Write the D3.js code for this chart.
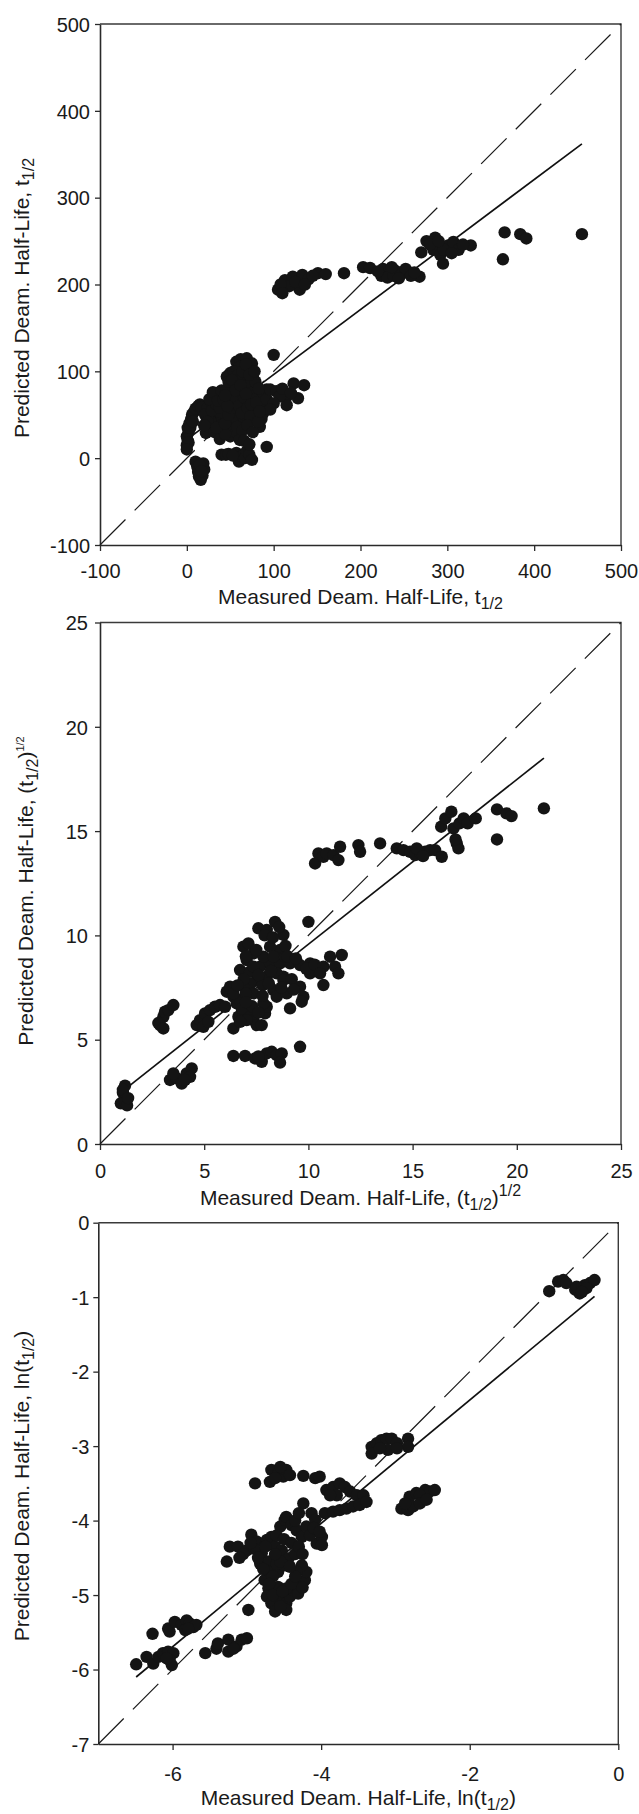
<!DOCTYPE html>
<meta charset="utf-8">
<head>
<title>Deamidation half-life: predicted vs measured</title>
<style>
  body { margin: 0; background: #fff; }
  svg text { font-family: "Liberation Sans", Arial, sans-serif; fill: #1a1a1a; }
</style>
</head>
<body>
<div id="chart"></div>
<script src="https://cdn.jsdelivr.net/npm/d3@7/dist/d3.min.js"></script>
<script>

// ---- data ----
// panel 1: t1/2
var linPts = [
  [0,15],[1,20],[0,25],[2,30],[1,35],[3,40],[5,45],[6,50],[8,53],[10,57],[13,60],[15,62],[17,58],[4,35],[2,18],[0,10],[7,42],
  [10,-4],[12,-10],[13,-16],[14,-21],[16,-25],[18,-20],[20,-13],[19,-6],[15,-8],[17,-15],
  [22,29],[26,36],[30,45],[33,52],[24,58],[21,50],[28,65],[31,70],[35,75],[38,72],[42,62],[45,55],[40,48],[36,40],
  [46,33],[50,40],[53,42],[32,30],[27,43],[38,22],[50,25],[55,31],[61,21],
  [24,42],[29,55],[34,62],[38,58],[26,68],[30,76],[36,66],[40,38],[44,28],[34,35],[40,78],[46,70],[20,38],
  [40,4],[45,4],[48,5],[57,6],[60,-4],[63,2],[67,0],[69,8],[72,4],[75,-2],[53,3],
  [57,111],[62,114],[69,115],[75,109],[50,98],[61,105],[46,94],[54,100],[65,90],[70,100],[76,94],[80,82],[54,82],
  [61,75],[71,67],[77,59],[88,71],[92,79],[55,56],[69,52],[77,44],[84,36],[61,44],[54,48],[50,67],[46,79],[42,67],
  [58,65],[65,80],[72,85],[82,74],[85,62],[67,60],[60,90],[74,75],[48,88],[66,45],[80,50],
  [44,40],[48,50],[52,58],[56,70],[60,60],[63,52],[66,70],[70,58],[73,48],[76,68],[79,88],[83,80],[86,45],[90,60],
  [58,95],[64,100],[68,108],[72,96],[78,100],[52,90],[56,78],[62,84],[68,74],[74,62],[80,64],[88,52],[92,68],
  [47,60],[44,72],[58,36],[64,32],[70,38],[76,30],[82,42],[66,20],[72,16],
  [96,79],[103,77],[115,71],[123,86],[135,84],[128,69],[115,61],[107,71],[100,63],[96,56],[84,54],[110,80],[120,75],
  [100,119],[92,13],
  [105,194],[113,205],[122,209],[133,211],[130,194],[118,198],[108,200],[140,206],[151,213],[181,213],[203,220],[211,219],
  [110,190],[125,203],[136,200],[145,210],[160,212],
  [226,218],[232,214],[240,216],[248,213],[255,214],[224,210],[231,208],[238,210],[246,211],[252,218],[268,209],
  [220,215],[236,220],[244,207],[258,210],[262,214],
  [270,237],[276,250],[286,254],[284,240],[292,234],[295,224],[301,245],[307,249],[313,240],[327,245],
  [280,246],[296,240],[305,236],[290,250],[318,246],
  [364,229],[366,260],[384,258],[391,253],[455,258]
];
var linFit = [[0,21.4],[455,362]];
var linTicks = [-100,0,100,200,300,400,500];

// panel 2: (t1/2)^1/2
var sqrtPts = [
  [1.2,2.8],[1.1,2.45],[1.2,2.1],[1.0,1.95],[1.3,1.85],[1.1,2.6],[1.35,2.2],
  [2.88,5.7],[3.04,6.1],[3.12,6.34],[3.28,6.42],[3.52,6.66],[2.8,5.8],[3.04,5.54],
  [3.36,3.07],[3.68,3.15],[3.92,2.9],[4.16,3.38],[4.4,3.62],[4.32,3.22],[4.08,3.07],[3.52,3.38],
  [4.64,5.7],[4.8,5.94],[5.04,6.26],[5.28,6.42],[5.52,6.58],[5.76,6.66],[6.0,6.58],[4.96,5.62],[5.2,5.86],
  [6.08,7.3],[6.24,7.54],[6.4,7.06],[6.56,6.74],[6.72,6.9],[6.4,5.54],[6.64,6.1],[6.88,6.26],[7.12,6.18],
  [7.36,5.94],[7.52,5.7],[7.76,5.7],[7.92,6.26],[8.0,6.58],[7.84,6.74],[7.04,5.94],[6.72,5.86],
  [6.4,4.22],[6.96,4.22],[7.44,4.1],[7.76,3.94],[8.0,4.34],[8.24,4.42],[8.48,4.26],[8.72,4.34],[8.64,3.9],[7.6,4.2],
  [9.6,4.66],[9.12,6.5],[10.0,10.65],
  [6.88,9.46],[7.12,9.62],[7.6,10.34],[8.0,10.26],[8.4,10.65],[8.8,10.02],[8.64,9.3],[8.16,9.46],[7.36,9.14],
  [7.04,8.82],[6.72,8.34],[7.2,8.26],[7.68,8.5],[8.16,8.66],[8.64,8.66],[9.12,8.66],[9.6,8.58],[10.08,8.66],
  [10.48,8.42],[10.08,8.18],[8.8,8.02],[8.48,8.18],[8.0,8.02],[7.52,7.86],[7.2,7.7],[6.88,7.54],[6.4,7.22],
  [7.36,7.22],[8.32,7.38],[8.48,7.06],[8.96,7.22],[9.6,7.54],[9.76,7.06],[9.68,6.82],[8.8,7.86],[7.84,8.98],
  [8.32,8.98],[8.88,8.98],[7.36,8.5],[7.9,10.0],[8.6,10.4],
  [7.0,9.0],[7.5,9.3],[8.3,9.9],[8.9,9.5],[9.0,9.0],[9.4,8.9],[8.2,8.3],[7.8,7.6],[7.6,8.1],[8.1,7.7],[9.2,7.9],
  [9.3,7.4],[8.7,7.5],[6.9,7.9],[6.6,7.6],[7.0,7.2],[7.8,7.1],[9.9,8.4],[10.3,8.6],[6.8,6.5],[7.3,6.6],[7.6,6.3],[7.0,6.8],
  [10.72,8.5],[11.04,8.98],[11.6,9.06],[11.28,8.5],[11.44,8.18],[10.72,7.62],[10.56,8.18],
  [10.32,13.45],[10.48,13.93],[10.72,13.77],[10.88,13.93],[11.2,13.85],[11.44,13.61],[11.52,14.25],[12.4,14.33],
  [12.48,14.01],[13.44,14.41],[14.24,14.17],[14.56,14.09],[14.88,14.01],[15.12,13.85],[15.36,13.93],[15.6,14.01],
  [15.84,14.09],[16.08,14.09],[15.2,14.17],[16.4,13.77],[15.5,13.8],[17.12,14.41],[17.2,14.17],
  [16.37,15.21],[16.57,15.61],[16.86,15.93],[16.96,15.13],[17.25,15.37],[17.45,15.61],[17.64,15.37],[18.03,15.61],
  [17.06,14.6],[19.05,14.6],[19.05,16.04],[19.5,15.85],[19.75,15.72],[21.3,16.09]
];
var sqrtFit = [[1.36,2.75],[21.3,18.5]];
var sqrtTicks = [0,5,10,15,20,25];

// panel 3: ln(t1/2)
var lnPts = [
  [-6.49,-5.93],[-6.35,-5.83],[-6.26,-5.92],[-6.19,-5.83],[-6.13,-5.78],[-6.06,-5.76],[-5.99,-5.78],[-6.04,-5.87],[-6.01,-5.94],[-6.08,-5.85],
  [-6.27,-5.52],
  [-6.06,-5.45],[-6.04,-5.49],[-5.97,-5.36],[-5.88,-5.40],[-5.81,-5.34],[-5.77,-5.38],[-5.72,-5.43],[-5.68,-5.40],[-5.83,-5.47],[-5.79,-5.45],
  [-5.56,-5.78],[-5.41,-5.72],[-5.39,-5.65],[-5.25,-5.76],[-5.25,-5.60],[-5.14,-5.69],[-5.07,-5.60],[-5.00,-5.58],[-5.18,-5.72],
  [-4.98,-5.20],
  [-5.27,-4.55],[-5.23,-4.35],[-5.12,-4.35],[-5.00,-4.40],[-4.94,-4.19],[-4.87,-4.28],[-4.80,-4.44],[-4.73,-4.26],[-4.67,-4.22],
  [-4.55,-4.08],[-4.49,-3.99],[-4.47,-3.95],[-4.40,-4.06],[-4.33,-4.13],[-4.26,-4.22],[-4.20,-4.08],[-4.13,-3.90],[-4.08,-3.99],
  [-4.06,-4.31],[-4.24,-3.77],[-4.62,-4.35],[-4.53,-4.40],[-4.44,-4.51],[-4.82,-4.58],[-5.05,-4.45],[-4.90,-4.38],
  [-5.10,-4.50],[-4.95,-4.30],[-4.85,-4.50],[-4.75,-4.35],[-4.70,-4.55],[-4.60,-4.20],[-4.50,-4.25],[-4.40,-4.30],
  [-4.35,-4.45],[-4.30,-4.35],[-4.25,-4.45],[-4.15,-4.20],[-4.10,-4.10],[-4.35,-4.00],[-4.30,-3.90],
  [-4.76,-4.80],[-4.69,-4.69],[-4.71,-4.91],[-4.73,-5.02],[-4.67,-5.11],[-4.62,-5.22],[-4.55,-5.07],[-4.47,-5.11],[-4.42,-5.02],
  [-4.38,-4.93],[-4.29,-4.84],[-4.22,-4.80],[-4.20,-4.69],[-4.26,-4.60],[-4.33,-4.69],[-4.58,-4.89],[-4.47,-4.91],[-4.58,-4.69],
  [-4.49,-4.60],[-4.60,-4.58],[-4.31,-4.98],[-4.47,-5.20],
  [-4.65,-4.75],[-4.70,-4.85],[-4.65,-5.00],[-4.55,-5.15],[-4.52,-4.95],[-4.40,-4.85],[-4.35,-4.75],[-4.25,-4.90],
  [-4.55,-4.55],[-4.78,-4.65],[-4.62,-4.45],[-4.42,-4.62],
  [-4.89,-3.50],[-4.69,-3.48],[-4.67,-3.32],[-4.58,-3.37],[-4.51,-3.41],[-4.47,-3.32],[-4.42,-3.39],[-4.24,-3.40],[-4.08,-3.43],
  [-4.62,-3.43],[-4.55,-3.28],[-4.02,-3.41],
  [-3.93,-3.59],[-3.84,-3.55],[-3.75,-3.50],[-3.68,-3.55],[-3.61,-3.61],[-3.52,-3.66],[-3.43,-3.66],[-3.79,-3.66],[-3.88,-3.66],
  [-3.32,-3.01],[-3.25,-2.96],[-3.19,-2.92],[-3.12,-2.90],[-3.05,-2.90],[-2.98,-2.96],[-3.10,-3.05],[-2.83,-2.90],[-2.83,-3.01],
  [-3.32,-3.10],[-3.21,-3.03],[-2.98,-3.03],
  [-2.81,-3.68],[-2.72,-3.63],[-2.60,-3.59],[-2.54,-3.61],[-2.67,-3.66],[-2.47,-3.59],
  [-0.93,-0.92],[-0.81,-0.79],[-0.74,-0.77],[-0.70,-0.81],[-0.58,-0.90],[-0.52,-0.95],[-0.45,-0.84],[-0.38,-0.81],[-0.32,-0.77],
  [-0.56,-0.86],[-0.43,-0.88],[-0.49,-0.93],
  [-3.95,-3.90],[-3.84,-3.88],[-3.75,-3.86],[-3.66,-3.84],[-3.57,-3.81],[-3.48,-3.79],[-3.39,-3.75],
  [-2.92,-3.84],[-2.83,-3.86],[-2.76,-3.81],[-2.67,-3.77],[-2.58,-3.72],[-2.87,-3.77],
  [-3.99,-4.22],[-3.99,-4.33],[-4.02,-4.15]
];
var lnFit = [[-6.49,-6.10],[-0.32,-0.99]];
var lnXTicks = [-6,-4,-2,0];
var lnYTicks = [0,-1,-2,-3,-4,-5,-6,-7];

// ---- layout ----
var panels = [
  { pts: linPts, fit: linFit, dom: [-100,500], xt: linTicks, yt: linTicks,
    L: 100, R: 621, T: 24, B: 545, tickY: 33, titleY: 59, yLabX: 28.5, yLabCY: 298, yTickX: -10,
    xpre: "Measured Deam. Half-Life, t", ypre: "Predicted Deam. Half-Life, t", post: "", sup: "" },
  { pts: sqrtPts, fit: sqrtFit, dom: [0,25], xt: sqrtTicks, yt: sqrtTicks,
    L: 100, R: 621, T: 622.5, B: 1144, tickY: 34, titleY: 61, yLabX: 33, yLabCY: 891, yTickX: -12,
    xpre: "Measured Deam. Half-Life, (t", ypre: "Predicted Deam. Half-Life, (t", post: ")", sup: "1/2" },
  { pts: lnPts, fit: lnFit, dom: [-7,0], xt: lnXTicks, yt: lnYTicks,
    L: 98.3, R: 618.3, T: 1222.7, B: 1744, tickY: 37, titleY: 61, yLabX: 28.5, yLabCY: 1486, yTickX: -9,
    xpre: "Measured Deam. Half-Life, ln(t", ypre: "Predicted Deam. Half-Life, ln(t", post: ")", sup: "" }
];

var svg = d3.select("#chart").append("svg")
  .attr("width", 639).attr("height", 1814)
  .style("display", "block");

svg.append("rect").attr("width", 639).attr("height", 1814).attr("fill", "#fff");

function label(sel, p, pre, isY) {
  sel.append("tspan").text(pre);
  sel.append("tspan").attr("dy", 5).style("font-size", "16px").text("1/2");
  if (p.post) sel.append("tspan").attr("dy", -5).text(p.post);
  if (p.sup) {
    if (isY) sel.append("tspan").attr("dy", -9).style("font-size", "11px").text(p.sup);
    else sel.append("tspan").attr("dy", -9).style("font-size", "16px").text(p.sup);
  }
}

// plain hyphen for negatives, as in the original
var fmt = function(d) { return String(d); };

panels.forEach(function(p) {
  var x = d3.scaleLinear().domain(p.dom).range([p.L, p.R]);
  var y = d3.scaleLinear().domain(p.dom).range([p.B, p.T]);
  var g = svg.append("g");

  // frame top/right
  g.append("path")
    .attr("d", "M" + p.L + "," + p.T + "H" + p.R + "V" + p.B)
    .attr("fill", "none").attr("stroke", "#3a3a3a").attr("stroke-width", 1.4);

  // axes
  var xa = g.append("g").attr("transform", "translate(0," + p.B + ")")
    .call(d3.axisBottom(x).tickValues(p.xt).tickSize(6).tickSizeOuter(0).tickFormat(fmt));
  var ya = g.append("g").attr("transform", "translate(" + p.L + ",0)")
    .call(d3.axisLeft(y).tickValues(p.yt).tickSize(5).tickSizeOuter(0).tickFormat(fmt));
  [xa, ya].forEach(function(a) {
    a.select(".domain").attr("stroke", "#2a2a2a").attr("stroke-width", 1.6);
    a.selectAll(".tick line").attr("stroke", "#2a2a2a").attr("stroke-width", 1.3);
    a.selectAll("text").style("font-size", "20px").attr("fill", "#1a1a1a");
  });
  xa.selectAll("text").attr("y", p.tickY).attr("dy", null);
  ya.selectAll("text").attr("x", p.yTickX).attr("dy", "0.36em");

  // identity line
  g.append("line")
    .attr("x1", x(p.dom[0])).attr("y1", y(p.dom[0]))
    .attr("x2", x(p.dom[1])).attr("y2", y(p.dom[1]))
    .attr("stroke", "#1a1a1a").attr("stroke-width", 1.2)
    .attr("stroke-dasharray", "36,13");

  // regression line
  g.append("line")
    .attr("x1", x(p.fit[0][0])).attr("y1", y(p.fit[0][1]))
    .attr("x2", x(p.fit[1][0])).attr("y2", y(p.fit[1][1]))
    .attr("stroke", "#111").attr("stroke-width", 1.7);

  // points
  g.selectAll("circle").data(p.pts).enter().append("circle")
    .attr("cx", function(d) { return x(d[0]); })
    .attr("cy", function(d) { return y(d[1]); })
    .attr("r", 6.2)
    .attr("fill", "#141414");

  // axis titles
  var xt = g.append("text")
    .attr("x", (p.L + p.R) / 2).attr("y", p.B + p.titleY)
    .attr("text-anchor", "middle").style("font-size", "21px");
  label(xt, p, p.xpre, false);

  var yt = g.append("text")
    .attr("transform", "translate(" + p.yLabX + "," + p.yLabCY + ") rotate(-90)")
    .attr("text-anchor", "middle").style("font-size", "21px");
  label(yt, p, p.ypre, true);
});

</script>
</body>
</html>
